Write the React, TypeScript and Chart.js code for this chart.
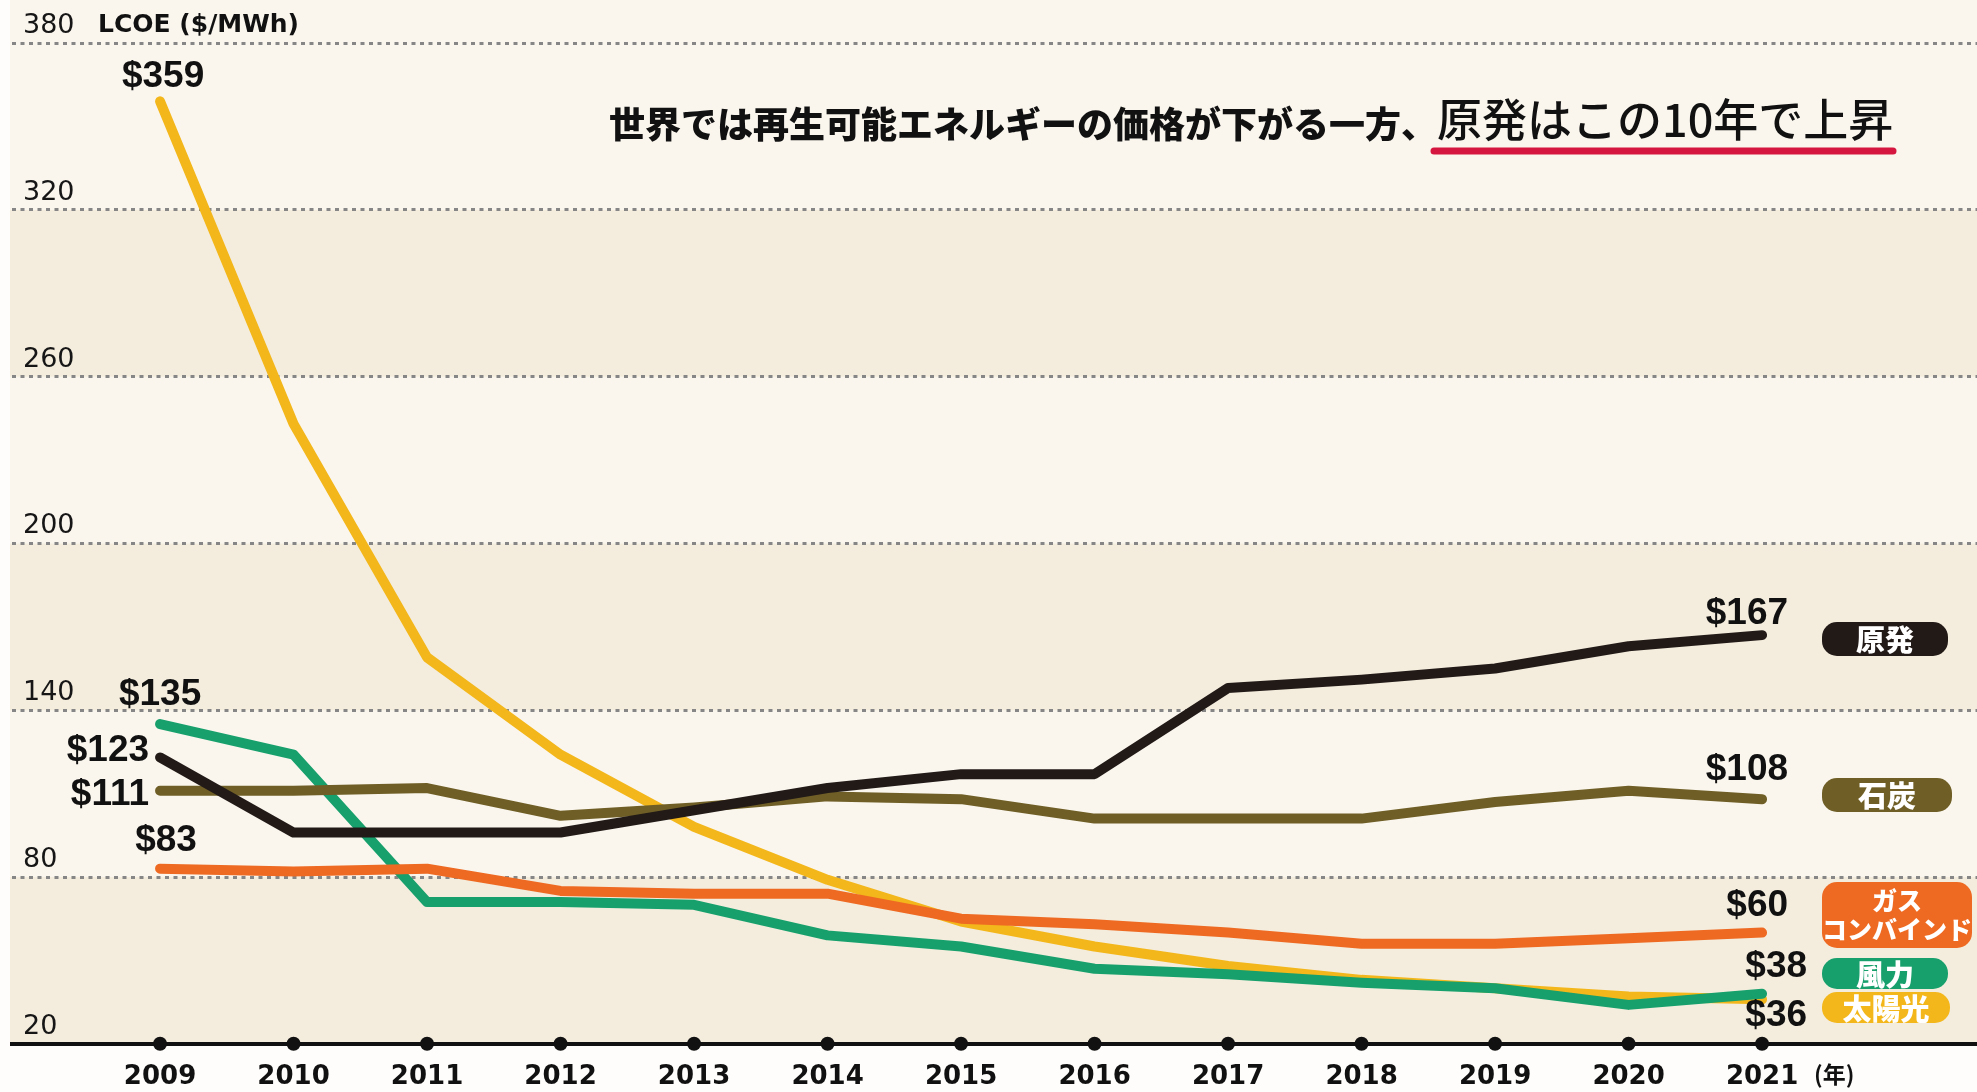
import { useEffect, useRef } from "react";
import { Chart, registerables } from "chart.js";

Chart.register(...registerables);

// ---------- data ----------
const years = [2009, 2010, 2011, 2012, 2013, 2014, 2015, 2016, 2017, 2018, 2019, 2020, 2021];
const nuclear = [123, 96, 96, 96, 104, 112, 117, 117, 148, 151, 155, 163, 167];
const coal = [111, 111, 112, 102, 105, 109, 108, 101, 101, 101, 107, 111, 108];
const gasCC = [83, 82, 83, 75, 74, 74, 65, 63, 60, 56, 56, 58, 60];
const wind = [135, 124, 71, 71, 70, 59, 55, 47, 45, 42, 40, 34, 38];
const solar = [359, 243, 159, 124, 98, 79, 64, 55, 48, 43, 40, 37, 36];
const yTickValues = [20, 80, 140, 200, 260, 320, 380];
const seriesNames = ["原発", "石炭", "ガス\nコンバインド", "風力", "太陽光"];
const titleMain = "世界では再生可能エネルギーの価格が下がる一方、";
const titleEmph = "原発はこの10年で上昇";
const yAxisTitle = "LCOE ($/MWh)";
const xUnit = "(年)";

// ---------- styles ----------
const W = 1977;
const H = 1092;
const COLORS = ["#221a17", "#6f5f26", "#ee6a22", "#17a06c", "#f3b71b"];
const LIGHT = "#faf6ee";
const DARK = "#f4eddd";
const LATIN = "'DejaVu Sans', 'Liberation Sans', sans-serif";
const LABEL_FONT = "'Liberation Sans', Arial, sans-serif";
const CJK = "'Noto Sans CJK JP', sans-serif";

// label offsets relative to the first/last point: [dx, dy, align]
const firstLabelPos: [number, number, CanvasTextAlign][] = [
  [-11, -7, "right"],
  [-11, 4, "right"],
  [6, -28, "center"],
  [0, -29, "center"],
  [3, -25, "center"],
];
const lastLabelPos: [number, number, CanvasTextAlign][] = [
  [26, -21, "right"],
  [26, -29, "right"],
  [26, -27, "right"],
  [45, -27, "right"],
  [45, 16, "right"],
];
// legend pill boxes [x, y, w, h]
const pillBoxes: [number, number, number, number][] = [
  [1822, 622, 126, 34],
  [1822, 778, 130, 34],
  [1822, 882, 150, 66],
  [1822, 958, 126, 31],
  [1822, 992, 128, 31],
];

const seriesData = [nuclear, coal, gasCC, wind, solar];

function roundRect(ctx: CanvasRenderingContext2D, x: number, y: number, w: number, h: number, r: number) {
  ctx.beginPath();
  ctx.moveTo(x + r, y);
  ctx.lineTo(x + w - r, y);
  ctx.arcTo(x + w, y, x + w, y + r, r);
  ctx.lineTo(x + w, y + h - r);
  ctx.arcTo(x + w, y + h, x + w - r, y + h, r);
  ctx.lineTo(x + r, y + h);
  ctx.arcTo(x, y + h, x, y + h - r, r);
  ctx.lineTo(x, y + r);
  ctx.arcTo(x, y, x + r, y, r);
  ctx.closePath();
}

const bgPlugin = {
  id: "bgBands",
  beforeDraw(chart: any) {
    const { ctx, chartArea, scales } = chart;
    const y = scales.y;
    ctx.save();
    ctx.fillStyle = "#fefdfb";
    ctx.fillRect(0, 0, W, H);
    ctx.fillStyle = LIGHT;
    ctx.fillRect(10, 0, W - 10, chartArea.bottom);
    for (let i = 0; i < yTickValues.length - 1; i++) {
      const top = y.getPixelForValue(yTickValues[i + 1]);
      const bot = y.getPixelForValue(yTickValues[i]);
      ctx.fillStyle = i % 2 === 0 ? DARK : LIGHT;
      ctx.fillRect(10, top, W - 10, bot - top);
    }
    ctx.restore();
  },
};

const overlayPlugin = {
  id: "overlay",
  afterDatasetsDraw(chart: any) {
    const { ctx } = chart;
    ctx.save();
    ctx.font = `bold 37px ${LABEL_FONT}`;
    ctx.fillStyle = "#111";
    ctx.textBaseline = "middle";
    seriesData.forEach((arr, i) => {
      const meta = chart.getDatasetMeta(i);
      const p0 = meta.data[0];
      const pN = meta.data[meta.data.length - 1];
      const [dx0, dy0, a0] = firstLabelPos[i];
      ctx.textAlign = a0;
      ctx.fillText(`$${arr[0]}`, p0.x + dx0, p0.y + dy0);
      const [dx1, dy1, a1] = lastLabelPos[i];
      ctx.textAlign = a1;
      ctx.fillText(`$${arr[arr.length - 1]}`, pN.x + dx1, pN.y + dy1);
    });
    ctx.restore();
  },
  afterDraw(chart: any) {
    const { ctx, scales, chartArea } = chart;
    const x = scales.x;
    ctx.save();
    // axis dots
    ctx.fillStyle = "#111";
    years.forEach((yr) => {
      ctx.beginPath();
      ctx.arc(x.getPixelForValue(yr), chartArea.bottom, 7, 0, Math.PI * 2);
      ctx.fill();
    });
    // unit label
    ctx.font = `bold 23px ${CJK}`;
    ctx.textAlign = "left";
    ctx.textBaseline = "middle";
    ctx.fillText(xUnit, x.getPixelForValue(years[years.length - 1]) + 52, 1074);
    // y axis title
    ctx.font = `bold 25px ${LATIN}`;
    ctx.fillText(yAxisTitle, 98, 25);
    // title
    ctx.font = `900 36px ${CJK}`;
    ctx.fillStyle = "#111";
    ctx.fillText(titleMain, 609, 124);
    ctx.font = `500 45px ${CJK}`;
    ctx.fillText(titleEmph, 1437, 120);
    ctx.strokeStyle = "#d5173f";
    ctx.lineWidth = 7;
    ctx.lineCap = "round";
    ctx.beginPath();
    ctx.moveTo(1434, 151);
    ctx.lineTo(1893, 151);
    ctx.stroke();
    // legend pills
    pillBoxes.forEach(([bx, by, bw, bh], i) => {
      ctx.fillStyle = COLORS[i];
      roundRect(ctx, bx, by, bw, bh, Math.min(bh / 2, 15));
      ctx.fill();
      ctx.fillStyle = "#ffffff";
      ctx.textAlign = "center";
      const lines = seriesNames[i].split("\n");
      if (lines.length === 1) {
        ctx.font = `900 29px ${CJK}`;
        ctx.fillText(lines[0], bx + bw / 2, by + bh / 2 + 1);
      } else {
        ctx.font = `900 25px ${CJK}`;
        ctx.fillText(lines[0], bx + bw / 2, by + bh * 0.28);
        ctx.fillText(lines[1], bx + bw / 2, by + bh * 0.72);
      }
    });
    ctx.restore();
  },
};

export default function App() {
  const canvasRef = useRef<HTMLCanvasElement | null>(null);

  useEffect(() => {
    const canvas = canvasRef.current;
    if (!canvas) return;
    const chart = new Chart(canvas, {
      type: "line",
      data: {
        datasets: seriesData.map((arr, i) => ({
          label: seriesNames[i],
          data: years.map((yr, j) => ({ x: yr, y: arr[j] })),
          borderColor: COLORS[i],
          backgroundColor: COLORS[i],
          borderWidth: 10,
          pointRadius: 0,
          tension: 0,
          borderCapStyle: "round",
          borderJoinStyle: "round",
          fill: false,
          clip: false as any,
        })),
      },
      options: {
        responsive: false,
        animation: false,
        devicePixelRatio: 1,
        layout: { padding: { left: -10, right: 0, top: 43, bottom: -19 } },
        plugins: { legend: { display: false }, tooltip: { enabled: false }, title: { display: false } },
        scales: {
          x: {
            type: "linear",
            min: 2007.891,
            max: 2022.61,
            afterBuildTicks: (scale: any) => {
              scale.ticks = years.map((v) => ({ value: v }));
            },
            grid: { display: false, drawTicks: false },
            border: { display: true, color: "#111", width: 4 },
            ticks: {
              padding: 18,
              color: "#111",
              font: { family: LATIN, size: 26, weight: "bold", lineHeight: 1.2 },
              callback: (v: any) => String(v),
              maxRotation: 0,
              autoSkip: false,
            },
          },
          y: {
            type: "linear",
            min: 20,
            max: 380,
            afterBuildTicks: (scale: any) => {
              scale.ticks = yTickValues.map((v) => ({ value: v }));
            },
            grid: { color: "#868686", lineWidth: 3, drawTicks: false },
            border: { display: false, dash: [4, 4.5] },
            ticks: {
              mirror: true,
              padding: 11,
              labelOffset: -17,
              color: "#161616",
              font: { family: LATIN, size: 27, lineHeight: 1.2 },
              callback: (v: any) => String(v),
            },
          },
        },
      },
      plugins: [bgPlugin, overlayPlugin],
    });
    return () => chart.destroy();
  }, []);

  return (
    <div style={{ position: "absolute", left: 0, top: 0, width: W, height: H }}>
      <canvas ref={canvasRef} width={W} height={H} style={{ width: W, height: H, display: "block" }} />
    </div>
  );
}
